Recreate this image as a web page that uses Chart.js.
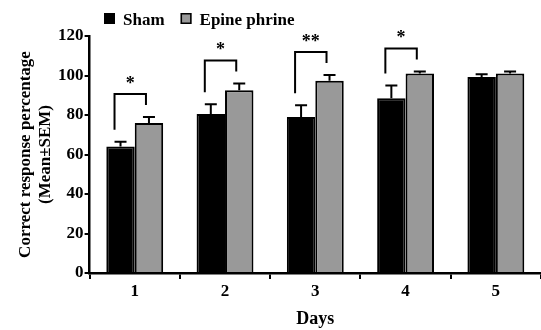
<!DOCTYPE html>
<html>
<head>
<meta charset="utf-8">
<script src="https://cdn.jsdelivr.net/npm/chart.js@4.4.1/dist/chart.umd.min.js"></script>
<style>
  html, body { margin: 0; padding: 0; background: #fff; }
  #wrap { width: 541px; height: 330px; }
</style>
</head>
<body>
<div id="wrap"><canvas id="chart" width="541" height="330"></canvas></div>
<script>
// values
const days = ['1', '2', '3', '4', '5'];
const shamMean = [64, 80.5, 79, 88.5, 99.3];
const shamSem = [2.5, 5, 6, 6.5, 1.3];
const epiMean = [76, 92.5, 97.3, 101, 101];
const epiSem = [3, 3.5, 3, 1, 1];
const sigLabels = ['*', '*', '**', '*', ''];
const yTicks = [0, 20, 40, 60, 80, 100, 120];

const serif = '"Liberation Serif", "Times New Roman", serif';

// error bars, significance brackets and the legend drawn on top
const overlay = {
    id: 'overlay',
    afterDatasetsDraw(chart) {
        const ctx = chart.ctx;
        const y = chart.scales.y;
        const sems = [shamSem, epiSem];
        ctx.save();
        ctx.strokeStyle = '#000';
        ctx.lineWidth = 2;
        const tops = [[], []];
        chart.data.datasets.forEach((ds, di) => {
            chart.getDatasetMeta(di).data.forEach((bar, i) => {
                const yt = y.getPixelForValue(ds.data[i] + sems[di][i]);
                tops[di][i] = { x: bar.x, y: yt };
                ctx.beginPath();
                ctx.moveTo(bar.x, bar.y);
                ctx.lineTo(bar.x, yt);
                ctx.moveTo(bar.x - 6, yt);
                ctx.lineTo(bar.x + 6, yt);
                ctx.stroke();
            });
        });

        // brackets
        ctx.fillStyle = '#000';
        ctx.font = 'bold 18px ' + serif;
        ctx.textAlign = 'center';
        ctx.textBaseline = 'middle';
        sigLabels.forEach((lab, i) => {
            if (!lab) return;
            const a = tops[0][i], b = tops[1][i];
            const xl = a.x - 6, xr = b.x - 3;
            const yl = a.y - 12, yr = b.y - 12;
            const yt = Math.min(yl, yr) - 11;
            ctx.beginPath();
            ctx.moveTo(xl, yl);
            ctx.lineTo(xl, yt);
            ctx.lineTo(xr, yt);
            ctx.lineTo(xr, yr);
            ctx.stroke();
            ctx.fillText(lab, (xl + xr) / 2, yt - 10);
        });

        // legend
        ctx.font = 'bold 17px ' + serif;
        ctx.textAlign = 'left';
        ctx.textBaseline = 'alphabetic';
        let lx = 104;
        chart.data.datasets.forEach(ds => {
            ctx.fillStyle = ds.backgroundColor;
            ctx.fillRect(lx, 13, 11, 11);
            ctx.lineWidth = 1.5;
            ctx.strokeRect(lx + 0.75, 13.75, 9.5, 9.5);
            ctx.fillStyle = '#000';
            ctx.fillText(ds.label, lx + 19, 25);
            lx += 19 + ctx.measureText(ds.label).width + 16;
        });
        ctx.restore();
    }
};

new Chart(document.getElementById('chart'), {
    type: 'bar',
    data: {
        labels: days,
        datasets: [
            {
                label: 'Sham',
                data: shamMean,
                backgroundColor: '#000000',
                borderColor: '#000000',
                borderWidth: 2
            },
            {
                label: 'Epine phrine',
                data: epiMean,
                backgroundColor: '#999999',
                borderColor: '#000000',
                borderWidth: 2
            }
        ]
    },
    options: {
        responsive: false,
        animation: false,
        layout: { padding: { top: 36, right: 0, left: 16, bottom: 0 } },
        datasets: {
            bar: { categoryPercentage: 0.63, barPercentage: 1.0 }
        },
        plugins: {
            legend: { display: false },
            tooltip: { enabled: false }
        },
        scales: {
            x: {
                grid: {
                    drawOnChartArea: false,
                    color: '#000',
                    lineWidth: 2,
                    tickLength: 6
                },
                border: { color: '#000', width: 2.5 },
                ticks: {
                    color: '#000',
                    font: { family: serif, size: 17, weight: 'bold' },
                    padding: 2
                },
                title: {
                    display: true,
                    text: 'Days',
                    color: '#000',
                    font: { family: serif, size: 18, weight: 'bold' },
                    padding: { top: 5, bottom: 0 }
                }
            },
            y: {
                min: 0,
                max: 120,
                afterBuildTicks: axis => {
                    axis.ticks = yTicks.map(v => ({ value: v }));
                },
                grid: {
                    drawOnChartArea: false,
                    color: '#000',
                    lineWidth: 2,
                    tickLength: 5
                },
                border: { color: '#000', width: 2.5 },
                ticks: {
                    color: '#000',
                    font: { family: serif, size: 17, weight: 'bold' },
                    padding: 1
                },
                title: {
                    display: true,
                    text: ['Correct response percentage', '(Mean\u00b1SEM)'],
                    color: '#000',
                    font: { family: serif, size: 17, weight: 'bold', lineHeight: 1.15 },
                    padding: { top: 0, bottom: 2 }
                }
            }
        }
    },
    plugins: [overlay]
});
</script>
</body>
</html>
